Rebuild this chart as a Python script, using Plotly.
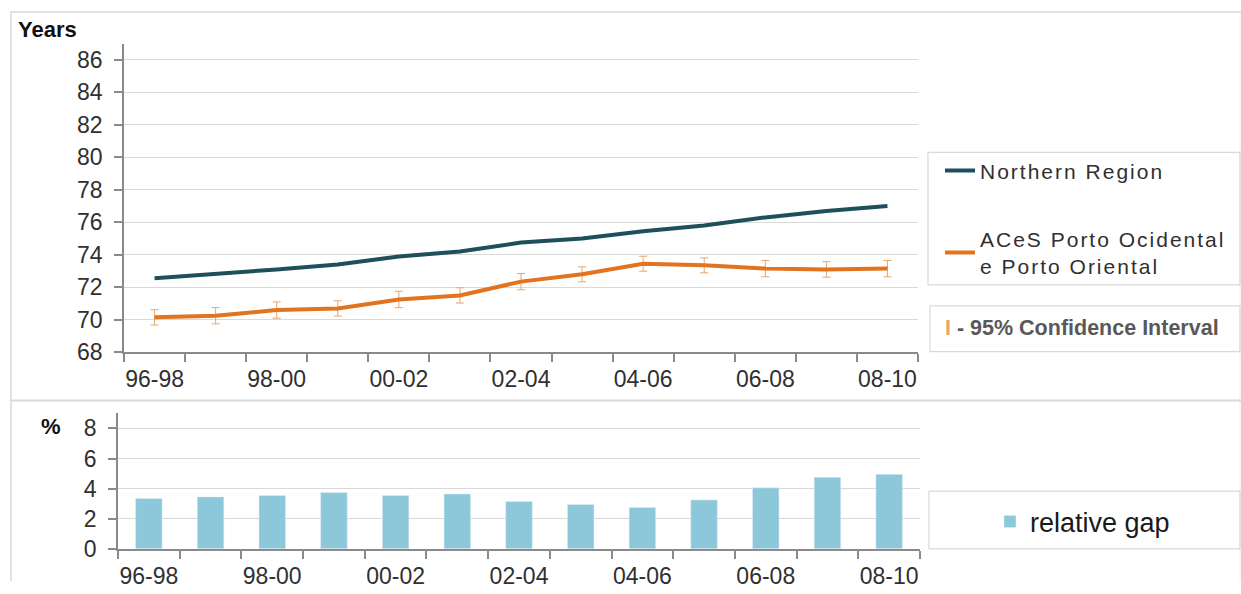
import plotly.graph_objects as go

# Three-year periods
periods = ["96-98", "97-99", "98-00", "99-01", "00-02", "01-03", "02-04",
           "03-05", "04-06", "05-07", "06-08", "07-09", "08-10"]

# Life expectancy at birth (years)
northern_region = [72.55, 72.8, 73.1, 73.4, 73.9, 74.2, 74.75,
                   75.0, 75.45, 75.8, 76.3, 76.7, 77.0]
aces_porto = [70.15, 70.25, 70.6, 70.7, 71.25, 71.5, 72.35,
              72.8, 73.45, 73.35, 73.15, 73.1, 73.15]
# Half-width of the 95% confidence interval
aces_ci = [0.47, 0.50, 0.50, 0.47, 0.50, 0.47, 0.50,
           0.46, 0.46, 0.46, 0.50, 0.48, 0.50]

# Relative gap between the two series (%)
relative_gap = [3.35, 3.45, 3.55, 3.75, 3.55, 3.65, 3.15,
                2.95, 2.75, 3.25, 4.05, 4.75, 4.95]

top_yticks = [68, 70, 72, 74, 76, 78, 80, 82, 84, 86]
bottom_yticks = [0, 2, 4, 6, 8]

W, H = 1241, 594
VSCALE = 0.982  # vertical layout factor
FONT = "Liberation Sans, Arial, sans-serif"
NAVY = "#1f4f5c"
ORANGE = "#e2731f"
CI_COLOR = "#e8a66e"
BAR = "#8dc7da"
GRID = "#d9d9d9"
AXIS = "#8a8a8a"
TEXT = "#303030"


def px(x):
    return x / W


def py(y):
    return max(0.0, 1 - (y / VSCALE) / H)


idx = list(range(len(periods)))
label_idx = idx[::2]
label_txt = periods[::2]

SPACED = "<span style='letter-spacing:2px'>{}</span>"

fig = go.Figure()

fig.add_trace(go.Scatter(
    x=idx, y=northern_region, mode="lines",
    name=SPACED.format("Northern Region"),
    line=dict(color=NAVY, width=4), xaxis="x", yaxis="y",
    legend="legend", legendgroup="n",
))
fig.add_trace(go.Scatter(
    x=idx, y=aces_porto, mode="lines",
    name=SPACED.format("ACeS Porto Ocidental") + "<br>"
         + SPACED.format("e Porto Oriental"),
    line=dict(color=ORANGE, width=4), xaxis="x", yaxis="y",
    error_y=dict(type="data", array=aces_ci, color=CI_COLOR,
                 thickness=1, width=4),
    legend="legend", legendgroup="a",
))
fig.add_trace(go.Bar(
    x=idx, y=relative_gap, name="relative gap", marker_color=BAR,
    width=0.43, xaxis="x2", yaxis="y2", legend="legend2",
))

xcommon = dict(
    range=[-0.5, 12.5], tickmode="array", tickvals=label_idx,
    ticktext=label_txt, ticks="", showgrid=False, zeroline=False,
    showline=True, linecolor=AXIS, linewidth=1.5,
    tickfont=dict(family=FONT, size=23, color=TEXT),
    minor=dict(tickmode="linear", tick0=-0.5, dtick=1, ticks="outside",
               ticklen=8, tickcolor=AXIS, tickwidth=1.5, showgrid=False),
)
ycommon = dict(
    tickmode="array", ticks="outside", ticklen=8, tickcolor=AXIS,
    tickwidth=1.5, showline=True, linecolor=AXIS, linewidth=1.5,
    showgrid=True, gridcolor=GRID, gridwidth=1.2, zeroline=False,
    tickfont=dict(family=FONT, size=23, color=TEXT),
)

fig.update_layout(
    width=W, height=H, margin=dict(l=0, r=0, t=0, b=0),
    paper_bgcolor="white", plot_bgcolor="white",
    xaxis=dict(xcommon, domain=[px(124), px(918)], anchor="y",
               ticklabelstandoff=5),
    yaxis=dict(ycommon, domain=[py(353.7), py(43.7)], range=[68, 87],
               tickvals=top_yticks, anchor="x", ticklabelstandoff=7),
    xaxis2=dict(xcommon, domain=[px(118), px(920)], anchor="y2",
                ticklabelstandoff=6),
    yaxis2=dict(ycommon, domain=[py(551), py(415)], range=[0, 9],
                tickvals=bottom_yticks, anchor="x2", ticklabelstandoff=7),
    legend=dict(
        x=px(940), y=py(151), xanchor="left", yanchor="top",
        bgcolor="rgba(0,0,0,0)", borderwidth=0, tracegroupgap=38,
        font=dict(family=FONT, size=21, color=TEXT),
        itemwidth=30,
    ),
    legend2=dict(
        x=px(990), y=py(524), xanchor="left", yanchor="middle",
        bgcolor="rgba(0,0,0,0)", borderwidth=0,
        font=dict(family=FONT, size=27, color="#1a1a1a"),
        itemwidth=30,
    ),
    showlegend=True,
)

shapes = [
    # outer frame and panel separator
    dict(type="line", xref="paper", yref="paper", x0=px(10), x1=px(1241),
         y0=py(12), y1=py(12), line=dict(color=GRID, width=1.5)),
    dict(type="line", xref="paper", yref="paper", x0=px(11), x1=px(11),
         y0=py(12), y1=0, line=dict(color=GRID, width=1.5)),
    dict(type="line", xref="paper", yref="paper", x0=px(1240), x1=px(1240),
         y0=py(12), y1=0, line=dict(color="#eeeeee", width=1)),
    dict(type="line", xref="paper", yref="paper", x0=px(11), x1=px(1241),
         y0=py(402), y1=py(402), line=dict(color=GRID, width=2)),
    # legend boxes
    dict(type="rect", xref="paper", yref="paper", x0=px(928), x1=px(1240),
         y0=py(286), y1=py(153), line=dict(color=GRID, width=1.2)),
    dict(type="rect", xref="paper", yref="paper", x0=px(930), x1=px(1240),
         y0=py(353), y1=py(307), line=dict(color=GRID, width=1.2)),
    dict(type="rect", xref="paper", yref="paper", x0=px(929), x1=px(1240),
         y0=py(551), y1=py(493), line=dict(color=GRID, width=1.2)),
]
fig.update_layout(shapes=shapes)

fig.add_annotation(
    x=px(16), y=py(30), xref="paper", yref="paper", xanchor="left",
    yanchor="middle", showarrow=False, text="<b>Years</b>",
    font=dict(family=FONT, size=22, color="#111111"),
)
fig.add_annotation(
    x=px(39), y=py(428), xref="paper", yref="paper", xanchor="left",
    yanchor="middle", showarrow=False, text="<b>%</b>",
    font=dict(family=FONT, size=22, color="#111111"),
)
fig.add_annotation(
    x=px(943), y=py(329), xref="paper", yref="paper", xanchor="left",
    yanchor="middle", showarrow=False,
    text=f"<span style='color:{CI_COLOR}'><b>I</b></span>"
         "<b> - 95% Confidence Interval</b>",
    font=dict(family=FONT, size=21.5, color="#595959"),
)

fig.write_html("out.html")
